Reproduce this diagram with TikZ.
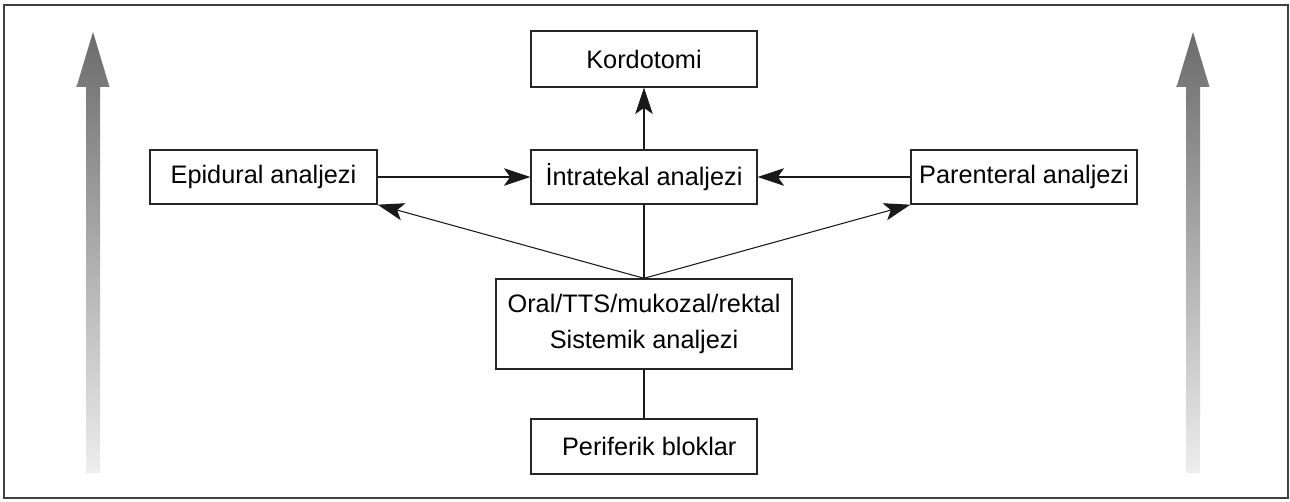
\documentclass[tikz,border=0pt]{standalone}
\usepackage{fontspec}
\setmainfont{Liberation Sans}
\usetikzlibrary{arrows.meta}
\begin{document}
\begin{tikzpicture}[x=0.02cm, y=-0.02cm, >={Stealth[length=15pt,width=10pt,inset=3.5pt]},
		font=\fontsize{14.4}{21}\selectfont,
		kutu/.style={draw=black!85, line width=0.8pt, inner sep=0pt, minimum height=1.08cm, minimum width=4.52cm, align=center},
		ok/.style={line width=0.6pt, black!90},
		buyukok/.style={top color=black!58, bottom color=black!7, draw=none}]
	\useasboundingbox (0,0) rectangle (1290,502);
	\draw[line width=1.1pt, black!75] (4,5) rectangle (1288,498);
	% yan oklar
	\foreach \x in {93,1193}{
		\shade[buyukok] (\x-7,473) -- (\x-7,87) -- (\x-16.5,87) -- (\x,32) -- (\x+16.5,87) -- (\x+7,87) -- (\x+7,473) -- cycle;
	}
	\node[kutu, minimum height=1.12cm] (kord) at (644,59) {Kordotomi};
	\node[kutu] (intra) at (644,177) {İntratekal analjezi};
	\node[kutu, minimum width=4.54cm] (epi) at (263.5,177) {Epidural analjezi};
	\node[kutu] (paren) at (1024,177) {Parenteral analjezi};
	\node[kutu, minimum width=5.92cm, minimum height=1.8cm] (oral) at (644,324) {Oral/TTS/mukozal/rektal\\Sistemik analjezi};
	\node[kutu, minimum height=1.1cm] (peri) at (644,446.5) {\hspace{6pt}Periferik bloklar};
	\draw[ok,->] (epi) -- (intra);
	\draw[ok,->] (paren) -- (intra);
	\draw[ok,->] (intra) -- (kord);
	\draw[ok] (oral.north) -- (intra.south);
	\draw[ok,->] (oral.north) -- (epi.south east);
	\draw[ok,->] (oral.north) -- (paren.south west);
	\draw[ok] (peri) -- (oral);
\end{tikzpicture}
\end{document}
